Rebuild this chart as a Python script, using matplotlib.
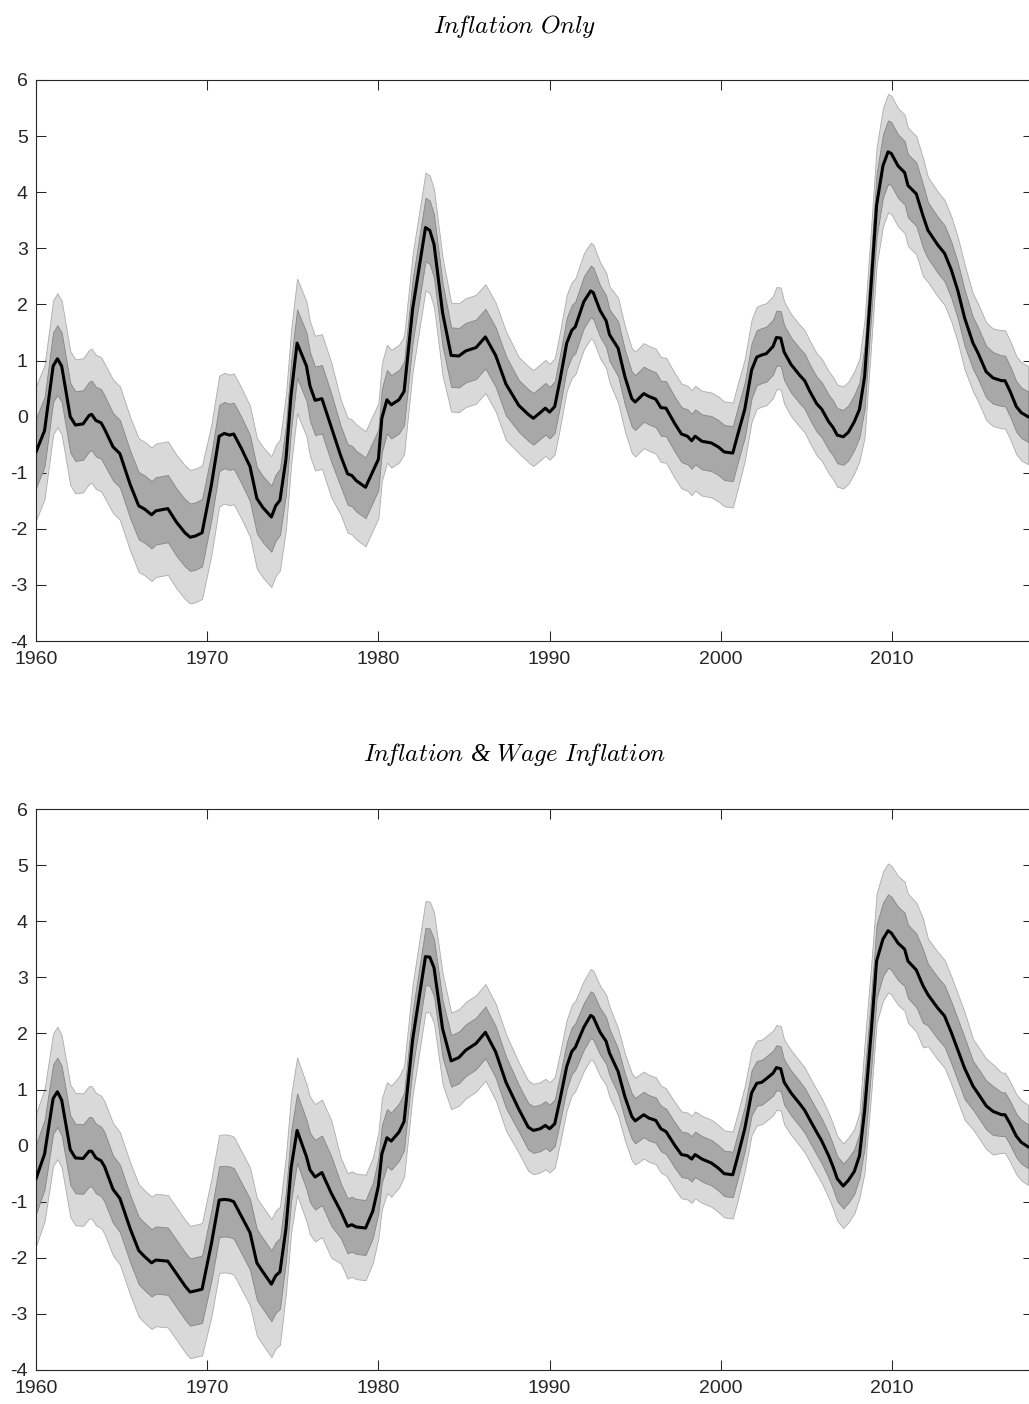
import numpy as np
import matplotlib.pyplot as plt

plt.rcParams['mathtext.fontset'] = 'cm'
plt.rcParams['axes.unicode_minus'] = False
plt.rcParams['font.family'] = ['Liberation Sans', 'DejaVu Sans']

# sample dates (roughly quarterly at turning points)
YEARS = [1960.0, 1960.5, 1961.0, 1961.25, 1961.5, 1962.0, 1962.3, 1962.75, 1963.1, 1963.25,
         1963.5, 1963.8, 1964.0, 1964.5, 1964.9, 1965.5, 1966.0, 1966.35, 1966.75, 1967.0,
         1967.7, 1968.2, 1968.7, 1969.0, 1969.3, 1969.7, 1970.25, 1970.7, 1971.0, 1971.3,
         1971.55, 1972.0, 1972.5, 1972.9, 1973.25, 1973.75, 1974.0, 1974.25, 1974.6, 1974.9,
         1975.25, 1975.8, 1976.0, 1976.3, 1976.7, 1977.25, 1977.8, 1978.2, 1978.45, 1978.7,
         1979.25, 1979.67, 1980.0, 1980.2, 1980.5, 1980.75, 1981.2, 1981.5, 1982.0, 1982.75,
         1983.0, 1983.25, 1983.75, 1984.25, 1984.7, 1985.1, 1985.7, 1986.25, 1986.85, 1987.45,
         1988.2, 1988.75, 1989.05, 1989.45, 1989.75, 1990.0, 1990.3, 1990.6, 1991.0, 1991.3,
         1991.5, 1992.0, 1992.4, 1992.55, 1992.95, 1993.3, 1993.5, 1994.0, 1994.4, 1994.8,
         1995.0, 1995.5, 1995.8, 1996.2, 1996.5, 1996.8, 1997.3, 1997.7, 1998.05, 1998.3,
         1998.5, 1998.9, 1999.45, 1999.85, 2000.2, 2000.7, 2001.0, 2001.4, 2001.8, 2002.1,
         2002.4, 2002.65, 2003.05, 2003.25, 2003.5, 2003.7, 2004.1, 2004.6, 2004.9, 2005.2,
         2005.6, 2005.9, 2006.3, 2006.55, 2006.8, 2007.15, 2007.45, 2007.8, 2008.1, 2008.4,
         2008.8, 2009.1, 2009.47, 2009.77, 2009.96, 2010.35, 2010.74, 2010.93, 2011.42, 2011.81,
         2012.1, 2012.65, 2013.07, 2013.46, 2013.85, 2014.24, 2014.73, 2015.0, 2015.5, 2015.9,
         2016.4, 2016.6, 2016.9, 2017.26, 2017.55, 2017.94]

# median, "Inflation Only"
TOP_MED = [-0.63, -0.25, 0.90, 1.03, 0.90, 0.00, -0.15, -0.13, 0.02, 0.04,
           -0.07, -0.11, -0.22, -0.54, -0.66, -1.21, -1.59, -1.65, -1.75, -1.68,
           -1.64, -1.88, -2.07, -2.15, -2.13, -2.07, -1.21, -0.35, -0.30, -0.33,
           -0.31, -0.57, -0.89, -1.46, -1.62, -1.79, -1.59, -1.49, -0.76, 0.39,
           1.31, 0.90, 0.55, 0.29, 0.32, -0.19, -0.70, -1.02, -1.05, -1.14,
           -1.26, -0.98, -0.76, -0.03, 0.30, 0.21, 0.30, 0.45, 1.92, 3.37,
           3.32, 3.07, 1.85, 1.09, 1.08, 1.17, 1.23, 1.42, 1.09, 0.58,
           0.20, 0.04, -0.03, 0.07, 0.15, 0.08, 0.18, 0.64, 1.31, 1.54,
           1.60, 2.05, 2.24, 2.21, 1.89, 1.71, 1.46, 1.22, 0.71, 0.32,
           0.26, 0.41, 0.36, 0.31, 0.16, 0.15, -0.12, -0.31, -0.35, -0.43,
           -0.35, -0.44, -0.47, -0.54, -0.63, -0.65, -0.31, 0.13, 0.83, 1.06,
           1.10, 1.12, 1.25, 1.41, 1.40, 1.15, 0.93, 0.74, 0.64, 0.45,
           0.23, 0.13, -0.09, -0.19, -0.33, -0.36, -0.28, -0.09, 0.13, 0.71,
           2.43, 3.77, 4.47, 4.72, 4.69, 4.47, 4.35, 4.12, 3.97, 3.58,
           3.32, 3.07, 2.91, 2.62, 2.24, 1.76, 1.31, 1.15, 0.80, 0.69,
           0.64, 0.64, 0.45, 0.18, 0.07, 0.00]

# median, "Inflation & Wage Inflation"
BOT_MED = [-0.59, -0.15, 0.84, 0.96, 0.81, -0.07, -0.22, -0.23, -0.10, -0.10,
           -0.22, -0.27, -0.37, -0.78, -0.94, -1.48, -1.87, -1.98, -2.09, -2.04,
           -2.06, -2.28, -2.50, -2.61, -2.59, -2.56, -1.74, -0.97, -0.96, -0.97,
           -1.00, -1.26, -1.55, -2.09, -2.25, -2.47, -2.32, -2.25, -1.48, -0.40,
           0.27, -0.20, -0.43, -0.56, -0.48, -0.85, -1.17, -1.44, -1.41, -1.45,
           -1.47, -1.17, -0.72, -0.15, 0.14, 0.08, 0.24, 0.43, 1.89, 3.37,
           3.36, 3.17, 2.08, 1.51, 1.57, 1.70, 1.82, 2.02, 1.67, 1.13,
           0.65, 0.33, 0.27, 0.30, 0.36, 0.30, 0.39, 0.81, 1.41, 1.68,
           1.75, 2.11, 2.32, 2.29, 2.02, 1.86, 1.65, 1.32, 0.87, 0.52,
           0.44, 0.55, 0.49, 0.45, 0.30, 0.25, 0.01, -0.16, -0.18, -0.24,
           -0.16, -0.24, -0.31, -0.40, -0.50, -0.52, -0.18, 0.30, 0.94, 1.11,
           1.13, 1.19, 1.29, 1.39, 1.37, 1.13, 0.94, 0.75, 0.63, 0.46,
           0.24, 0.08, -0.18, -0.37, -0.59, -0.72, -0.62, -0.46, -0.18, 0.62,
           2.08, 3.29, 3.68, 3.83, 3.79, 3.61, 3.50, 3.29, 3.13, 2.85,
           2.69, 2.46, 2.31, 2.02, 1.70, 1.38, 1.06, 0.94, 0.71, 0.61,
           0.55, 0.55, 0.39, 0.17, 0.06, -0.02]

# band distances from the median, read per period
BAND_START = [1960, 1964.5, 1970.25, 1974.6, 1977.8, 1980.2, 1984.0, 1988.0,
              1994.0, 2001.4, 2008.4, 2012.0, 2014.5, 2016.0]
TOP_IN_UP = [0.60, 0.60, 0.56, 0.60, 0.53, 0.53, 0.50, 0.45, 0.48, 0.48, 0.56, 0.50, 0.46, 0.45]
TOP_IN_LO = [0.64, 0.60, 0.62, 0.62, 0.55, 0.60, 0.56, 0.47, 0.50, 0.50, 0.57, 0.50, 0.46, 0.45]
TOP_OUT_UP = [1.17, 1.20, 1.08, 1.15, 1.00, 0.98, 0.94, 0.86, 0.90, 0.90, 1.03, 0.95, 0.88, 0.90]
TOP_OUT_LO = [1.22, 1.18, 1.25, 1.25, 1.05, 1.12, 1.00, 0.85, 0.97, 0.92, 1.08, 0.92, 0.86, 0.85]
BOT_IN_UP = [0.61, 0.60, 0.60, 0.66, 0.50, 0.51, 0.46, 0.43, 0.41, 0.40, 0.65, 0.55, 0.45, 0.40]
BOT_IN_LO = [0.63, 0.60, 0.66, 0.58, 0.48, 0.51, 0.46, 0.40, 0.40, 0.40, 0.66, 0.55, 0.42, 0.38]
BOT_OUT_UP = [1.16, 1.18, 1.16, 1.30, 0.95, 0.99, 0.86, 0.83, 0.77, 0.76, 1.20, 1.00, 0.84, 0.75]
BOT_OUT_LO = [1.20, 1.18, 1.30, 1.15, 0.93, 0.99, 0.86, 0.78, 0.78, 0.75, 1.10, 0.92, 0.77, 0.68]

TITLES = [r'$\mathit{In\!flation\ Only}$',
          r'$\mathit{In\!flation}\ $&$\ \mathit{Wage\ In\!flation}$']
XTICKS = [1960, 1970, 1980, 1990, 2000, 2010]
YTICKS = list(range(-4, 7))

W, H = 1029, 1404
fig = plt.figure(figsize=(W / 100, H / 100), dpi=100)

x = np.array(YEARS)
era = np.searchsorted(BAND_START, x, side='right') - 1


def draw_panel(ax, med, in_up, in_lo, out_up, out_lo):
    med = np.array(med)
    ax.fill_between(x, med - np.array(out_lo)[era], med + np.array(out_up)[era],
                    facecolor='#d9d9d9', edgecolor='#ababab', linewidth=0.6, zorder=1)
    ax.fill_between(x, med - np.array(in_lo)[era], med + np.array(in_up)[era],
                    facecolor='#a8a8a8', edgecolor='#858585', linewidth=0.6, zorder=2)
    ax.plot(x, med, color='black', linewidth=2.2, zorder=3)
    ax.set_xlim(1960, 2018.25)
    ax.set_ylim(-4, 6)
    ax.set_xticks(XTICKS)
    ax.set_yticks(YTICKS)
    ax.tick_params(direction='in', length=7, width=0.75, color='#262626',
                   labelcolor='#262626', labelsize=14, top=True, right=True)
    ax.tick_params(axis='x', pad=7)
    ax.tick_params(axis='y', pad=6)
    for s in ax.spines.values():
        s.set_color('#262626')
        s.set_linewidth(0.8)


left = 36 / W
width = (58.25 * 17.12) / W
ax1 = fig.add_axes([left, 1 - 641 / H, width, 561 / H])
ax2 = fig.add_axes([left, 1 - 1370 / H, width, 561 / H])
draw_panel(ax1, TOP_MED, TOP_IN_UP, TOP_IN_LO, TOP_OUT_UP, TOP_OUT_LO)
draw_panel(ax2, BOT_MED, BOT_IN_UP, BOT_IN_LO, BOT_OUT_UP, BOT_OUT_LO)

fig.text(0.5, 1 - 27 / H, TITLES[0], ha='center', va='center', fontsize=18)
fig.text(0.5, 1 - 755 / H, TITLES[1], ha='center', va='center', fontsize=18,
         family='Liberation Serif', style='italic')

fig.savefig('out.png', dpi=100)
